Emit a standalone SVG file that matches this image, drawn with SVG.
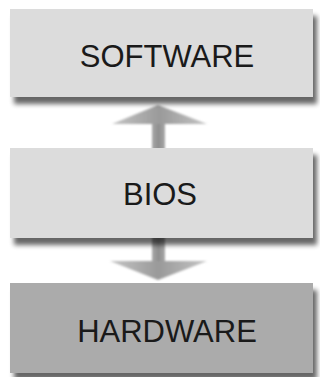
<svg xmlns="http://www.w3.org/2000/svg" width="320" height="377" viewBox="0 0 320 377">
<defs>
<filter id="sh" x="-10%" y="-20%" width="125%" height="150%">
<feGaussianBlur in="SourceAlpha" stdDeviation="2.5"/>
<feOffset dx="4" dy="7" result="b"/>
<feComponentTransfer><feFuncA type="linear" slope="0.6"/></feComponentTransfer>
<feMerge><feMergeNode/><feMergeNode in="SourceGraphic"/></feMerge>
</filter>
<filter id="bl" x="-10%" y="-20%" width="120%" height="140%"><feGaussianBlur stdDeviation="1"/></filter>
<linearGradient id="ag" x1="0" y1="0" x2="1" y2="0">
<stop offset="0" stop-color="#c4c4c4"/><stop offset="0.5" stop-color="#9a9a9a"/><stop offset="1" stop-color="#c4c4c4"/>
</linearGradient>
<linearGradient id="sg" x1="0" y1="0" x2="1" y2="0">
<stop offset="0" stop-color="#a8a8a8"/><stop offset="0.5" stop-color="#8e8e8e"/><stop offset="1" stop-color="#a8a8a8"/>
</linearGradient>
</defs>
<style>
.light{fill:#dcdcdc;filter:url(#sh)}
.dark{fill:#ababab;filter:url(#sh)}
.t{font-family:"Liberation Sans",Arial,sans-serif;font-size:31px;fill:#1a1a1a;text-anchor:middle}
</style>
<g id="connectors" filter="url(#bl)">
<g id="arrow-up">
<rect x="152" y="122" width="13" height="28" fill="url(#sg)"/>
<polygon points="158,105 207,124 112,124" fill="url(#ag)"/>
</g>
<g id="arrow-down">
<rect x="152" y="236" width="13" height="26" fill="url(#sg)"/>
<polygon points="110,261 207,261 158,280" fill="url(#ag)"/>
</g>
</g>
<g id="software">
<rect class="light" x="10" y="9" width="303" height="88"/>
<text class="t" x="167" y="67">SOFTWARE</text>
</g>
<g id="bios">
<rect class="light" x="10" y="148" width="303" height="90"/>
<text class="t" x="160" y="205">BIOS</text>
</g>
<g id="hardware">
<rect class="dark" x="10" y="283" width="303" height="90"/>
<text class="t" x="167" y="342">HARDWARE</text>
</g>
</svg>
